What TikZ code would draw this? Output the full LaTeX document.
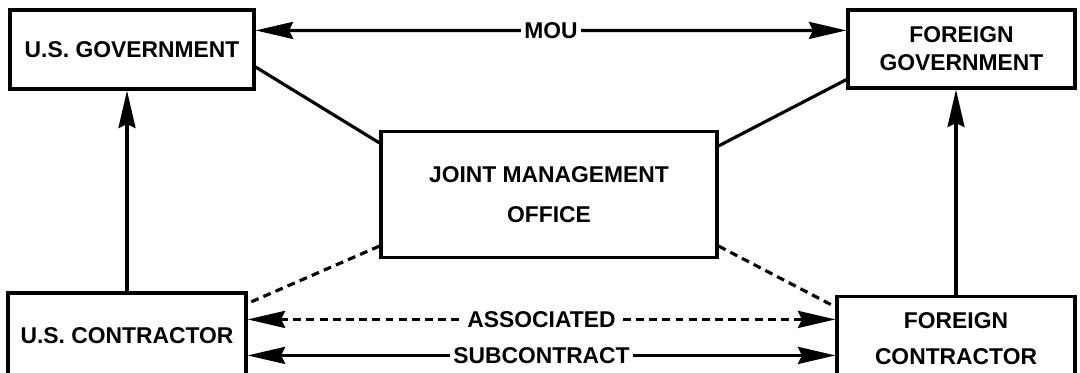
\documentclass[tikz,border=0pt]{standalone}
\usepackage{fontspec}
\setmainfont{Liberation Sans}
\usetikzlibrary{arrows.meta}
\tikzset{
  office/.style={draw, line width=1.8pt, align=center, inner sep=0pt,
    font=\fontsize{13}{16}\selectfont\bfseries},
  tie/.style={line width=1.8pt},
  loose/.style={tie, dash pattern=on 4.5pt off 3pt},
  tip/.style={-{Stealth[length=7.5mm, width=3.4mm, inset=0.8mm]}},
  bothtip/.style={{Stealth[length=7.5mm, width=3.4mm, inset=0.8mm]}-{Stealth[length=7.5mm, width=3.4mm, inset=0.8mm]}},
  tag/.style={fill=white, inner xsep=2pt, inner ysep=1pt, font=\fontsize{13}{15}\selectfont\bfseries}
}

\begin{document}
\begin{tikzpicture}
    \clip (0,0) rectangle (21.6,7.44);

    \node[office, minimum width=4.88cm, minimum height=1.58cm] (usgov)  at (2.64, 6.45)  {U.S. GOVERNMENT};
    \node[office, minimum width=4.54cm, minimum height=1.56cm] (forgov) at (19.23, 6.46) {FOREIGN\\GOVERNMENT};
    \node[office, minimum width=6.72cm, minimum height=2.52cm,
          font=\fontsize{13}{23}\selectfont\bfseries] (jmo)       at (10.98, 3.55) {JOINT MANAGEMENT\\OFFICE};
    \node[office, minimum width=4.76cm, minimum height=1.70cm] (uscon)  at (2.54, 0.73)  {U.S. CONTRACTOR};
    \node[office, minimum width=4.76cm, minimum height=1.70cm,
          font=\fontsize{13}{20.5}\selectfont\bfseries] (forcon)  at (19.12, 0.66) {FOREIGN\\CONTRACTOR};

    % top agreement
    \draw[tie, bothtip] ([yshift=-0.44cm]usgov.north east) -- node[tag] (mou) {MOU} ([yshift=-0.44cm]forgov.north west);

    % governments to the office
    \draw[tie] ([yshift=-0.35cm]usgov.east) -- ([yshift=-0.26cm]jmo.north west);
    \draw[tie] ([yshift=0.2cm]forgov.south west) -- ([yshift=-0.32cm]jmo.north east);

    % contractors to the office
    \draw[loose] ([yshift=0.26cm]jmo.south west) -- ([yshift=-0.24cm]uscon.north east);
    \draw[loose] ([yshift=0.26cm]jmo.south east) -- ([yshift=-0.24cm]forcon.north west);

    % contractors report up
    \draw[tie, tip] (uscon.north) -- (uscon.north |- usgov.south);
    \draw[tie, tip] (forcon.north) -- (forcon.north |- forgov.south);

    % contractor links
    \draw[loose, bothtip] ([yshift=-0.56cm]uscon.north east) -- node[tag] (assoc) {ASSOCIATED} ([yshift=-0.56cm]forcon.north west |- uscon.north);
    \draw[tie, bothtip] ([yshift=-1.28cm]uscon.north east) -- node[tag] (subc) {SUBCONTRACT} ([yshift=-1.28cm]forcon.north west |- uscon.north);
\end{tikzpicture}
\end{document}
